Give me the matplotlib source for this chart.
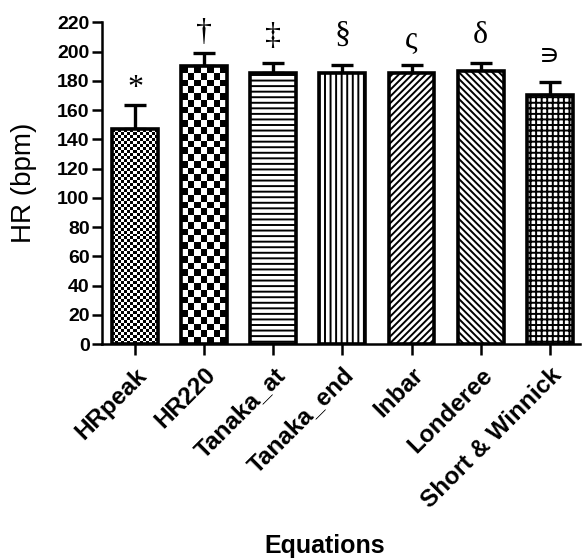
import matplotlib
matplotlib.use("Agg")
import matplotlib.pyplot as plt
import numpy as np

# data
equations = ["HRpeak", "HR220", "Tanaka_at", "Tanaka_end", "Inbar", "Londeree", "Short & Winnick"]
hr_mean = [147, 190, 185.5, 185.5, 185.5, 187, 170.5]
hr_sd = [16.5, 9, 6.5, 5.5, 5.5, 5.5, 8.5]
marks = ["*", "\u2020", "\u2021", "\u00a7", "\u03c2", "\u03b4", "\u220d"]
mark_y = [175, 213, 210, 211, 208, 211, 196]
mark_size = [23, 23, 23, 23, 23, 23, 21]

hatches = [None, None, "---", "|||", "/////", "\\\\\\\\\\", "+++"]
checker_px = {0: 3.0, 1: 6.7}   # checkerboard fills, cell size in pixels

plt.rcParams["font.family"] = ["Liberation Sans", "DejaVu Sans"]
plt.rcParams["hatch.linewidth"] = 1.4

fig = plt.figure(figsize=(5.83, 5.59), dpi=100)
ax = fig.add_axes([0.175, 0.3846, 0.82, 0.5755])

x = np.arange(len(equations))
width = 0.665

ax.set_xlim(-0.48, len(equations) - 0.56)
ax.set_ylim(0, 220)

ax.errorbar(x, hr_mean, yerr=[np.zeros(len(x)), hr_sd], fmt="none", ecolor="black",
            elinewidth=2.4, capsize=8, capthick=2.4, zorder=1)

bars = ax.bar(x, hr_mean, width, color="white", edgecolor="black", linewidth=0, zorder=2)
for b, h in zip(bars, hatches):
    if h:
        b.set_hatch(h)

# checkerboard fills drawn as images clipped to the bar
fig.canvas.draw()
for i, cell in checker_px.items():
    b = bars[i]
    x0, y0 = b.get_x(), 0
    x1, y1 = x0 + b.get_width(), b.get_height()
    p0 = ax.transData.transform((x0, y0))
    p1 = ax.transData.transform((x1, y1))
    nc = max(1, int(round((p1[0] - p0[0]) / cell)))
    nr = max(1, int(round((p1[1] - p0[1]) / cell)))
    board = (np.add.outer(np.arange(nr), np.arange(nc)) % 2).astype(float)
    im = ax.imshow(board, cmap="gray", interpolation="nearest", extent=(x0, x1, y0, y1),
                   aspect="auto", zorder=2.1, vmin=0, vmax=1)
    im.set_clip_path(b)

ax.bar(x, hr_mean, width, fill=False, edgecolor="black", linewidth=2.6, zorder=3)

for xi, m, my, fs in zip(x, marks, mark_y, mark_size):
    ax.text(xi, my, m, ha="center", va="center", fontsize=fs,
            family=["Liberation Serif", "DejaVu Serif", "DejaVu Sans"], clip_on=False)

for s in ["top", "right"]:
    ax.spines[s].set_visible(False)
for s in ["left", "bottom"]:
    ax.spines[s].set_linewidth(1.8)

ax.set_yticks(np.arange(0, 221, 20))
ax.tick_params(axis="y", length=7, width=1.8, labelsize=14, pad=2)
ax.tick_params(axis="x", length=8, width=1.8, labelsize=17.5, pad=6)
for lab in ax.get_yticklabels():
    lab.set_fontweight("bold")
ax.set_xticks(x)
ax.set_xticklabels(equations, rotation=45, ha="right", rotation_mode="anchor", fontweight="bold")

ax.set_ylabel("HR (bpm)", fontsize=20, va="center")
ax.yaxis.set_label_coords(-0.163, 0.5)
ax.set_xlabel("Equations", fontsize=18, fontweight="bold", va="center")
ax.xaxis.set_label_coords(0.466, -0.628)

fig.savefig("out.png", dpi=100)
